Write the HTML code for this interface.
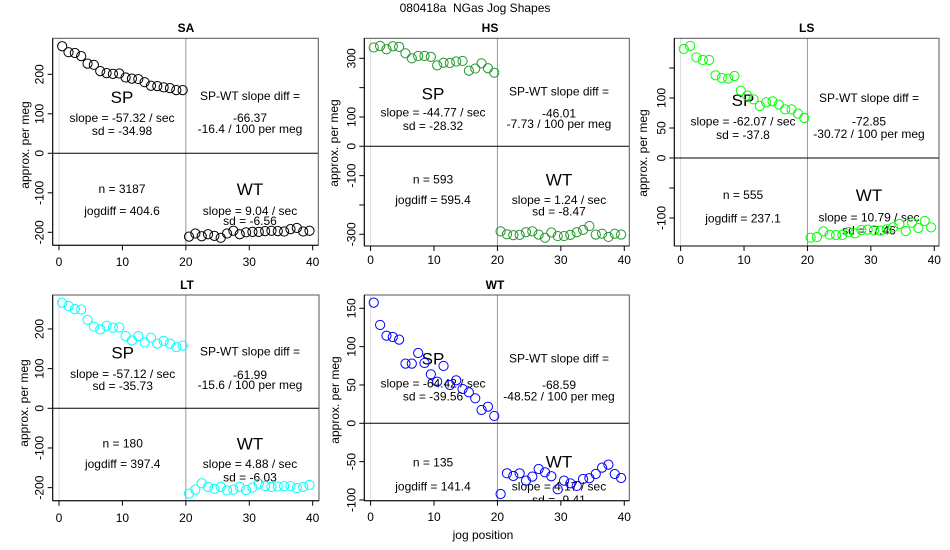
<!DOCTYPE html>
<html><head><meta charset="utf-8"><style>
html,body{margin:0;padding:0;background:#fff}
svg{display:block;font-family:"Liberation Sans",sans-serif}
</style></head><body>
<svg id="chart" width="950" height="550" viewBox="0 0 950 550" xmlns="http://www.w3.org/2000/svg">
<text x="475" y="12" text-anchor="middle" font-size="12" style="white-space:pre" xml:space="preserve">080418a  NGas Jog Shapes</text>
<text x="483" y="539" text-anchor="middle" font-size="12">jog position</text>
</svg>
<script>
const positions = [0.5,1.5,2.5,3.5,4.5,5.5,6.5,7.5,8.5,9.5,10.5,11.5,12.5,13.5,14.5,15.5,16.5,17.5,18.5,19.5,20.5,21.5,22.5,23.5,24.5,25.5,26.5,27.5,28.5,29.5,30.5,31.5,32.5,33.5,34.5,35.5,36.5,37.5,38.5,39.5];
const saValues = [271,256,254,246,227,224,208,203,201,202,192,189,188,180,171,170,167,165,160,160,-211,-203,-210,-205,-209,-214,-203,-196,-205,-200,-199,-199,-197,-196,-197,-198,-192,-189,-198,-196];
const hsValues = [337,342,331,341,339,317,300,308,308,305,276,285,284,289,291,258,265,283,266,251,-290,-300,-303,-302,-293,-290,-301,-312,-294,-306,-306,-302,-293,-285,-272,-301,-298,-309,-298,-301];
const lsValues = [181.7,186.7,167.8,163.3,163.3,137.8,133.3,132.2,136.7,112.2,104,97.8,86.7,92.8,94.4,88.9,81.1,81.1,73.9,66.7,-132.8,-131.7,-122.2,-127.8,-128.3,-128.3,-123.3,-125.6,-120,-119.4,-120.6,-121.1,-118.9,-115.6,-110,-121.7,-107.8,-116.7,-105,-115.6];
const ltValues = [266,258,250,249,223,206,199,208,203,204,182,171,182,166,178,163,170,163,154,158,-215,-205,-189,-198,-203,-198,-207,-205,-198,-206,-200,-190,-196,-198,-197,-196,-196,-201,-198,-193];
const wtValues = [157.4,128.3,114.3,112.6,109.1,77.8,77.8,91.7,78.7,63.9,54.3,74.8,50,56.1,44.8,40.4,32.6,17.4,21.7,9.6,-92.2,-65.2,-68.7,-65.2,-74.8,-69.6,-59.6,-63.9,-69.1,-86.1,-74.8,-78.3,-81.7,-72.6,-71.7,-66.1,-57.8,-53.9,-66.1,-71.3];
const xTicks = [0,10,20,30,40];
const saTicks = [-200,-100,0,100,200];
const saTickLabels = ["-200","-100","0","100","200"];
const hsTicks = [-300,-200,-100,0,100,200,300];
const hsTickLabels = ["-300","","-100","0","100","","300"];
const lsTicks = [-100,-50,0,50,100,150];
const lsTickLabels = ["-100","","0","50","100",""];
const ltTicks = [-200,-100,0,100,200];
const ltTickLabels = ["-200","-100","0","100","200"];
const wtTicks = [-100,-50,0,50,100,150];
const wtTickLabels = ["-100","-50","0","50","100","150"];
const saText = ["SP","slope = -57.32 / sec","sd = -34.98","SP-WT slope diff =","-66.37","-16.4 / 100 per meg","n = 3187","jogdiff = 404.6","WT","slope = 9.04 / sec","sd = -6.56"];
const hsText = ["SP","slope = -44.77 / sec","sd = -28.32","SP-WT slope diff =","-46.01","-7.73 / 100 per meg","n = 593","jogdiff = 595.4","WT","slope = 1.24 / sec","sd = -8.47"];
const lsText = ["SP","slope = -62.07 / sec","sd = -37.8","SP-WT slope diff =","-72.85","-30.72 / 100 per meg","n = 555","jogdiff = 237.1","WT","slope = 10.79 / sec","sd = -7.46"];
const ltText = ["SP","slope = -57.12 / sec","sd = -35.73","SP-WT slope diff =","-61.99","-15.6 / 100 per meg","n = 180","jogdiff = 397.4","WT","slope = 4.88 / sec","sd = -6.03"];
const wtText = ["SP","slope = -64.42 / sec","sd = -39.56","SP-WT slope diff =","-68.59","-48.52 / 100 per meg","n = 135","jogdiff = 141.4","WT","slope = 4.17 / sec","sd = -9.41"];

const NS="http://www.w3.org/2000/svg";
const svg=document.getElementById('chart');
function mk(tag,attrs,parent){const e=document.createElementNS(NS,tag);for(const k in attrs)e.setAttribute(k,attrs[k]);(parent||svg).appendChild(e);return e;}

const panels=[
 {id:'sa',title:'SA',values:saValues,ticks:saTicks,labels:saTickLabels,text:saText,color:'#000000',
  l:52.7,r:318.3,t:38.3,b:245.3,y0:153.3,k:0.395,tx:186,ty:32,ylx:25,yly:145,xly:266,
  cx:[122,250],ys:[97,118,131,96,118,129,189,211,189,211,221]},
 {id:'hs',title:'HS',values:hsValues,ticks:hsTicks,labels:hsTickLabels,text:hsText,color:'#22962a',
  l:364.3,r:629.3,t:38.3,b:246,y0:146.3,k:0.2933,tx:490,ty:32,ylx:334,yly:143,xly:264,
  cx:[433,559],ys:[93.3,112.7,126,91.7,113.3,124,179.3,200,179.3,200,211.7]},
 {id:'ls',title:'LS',values:lsValues,ticks:lsTicks,labels:lsTickLabels,text:lsText,color:'#00ff00',
  l:674.3,r:939,t:38.3,b:246,y0:158,k:0.6,tx:806.7,ty:32,ylx:643,yly:153,xly:264,
  cx:[743,869],ys:[100,121.7,135,98,121.7,134,195,218.3,195,217.7,230.7]},
 {id:'lt',title:'LT',values:ltValues,ticks:ltTicks,labels:ltTickLabels,text:ltText,color:'#00ffff',
  l:52.7,r:319,t:295,b:500.7,y0:408.3,k:0.3967,tx:187,ty:289,ylx:24,yly:403,xly:522,
  cx:[122.7,250],ys:[352.7,374,386,351.7,375,385,443.3,464,443.3,464,477.3]},
 {id:'wt',title:'WT',values:wtValues,ticks:wtTicks,labels:wtTickLabels,text:wtText,color:'#0000ff',
  l:364.3,r:629.3,t:295,b:500.7,y0:423.3,k:0.7667,tx:495,ty:289,ylx:335,yly:400,xly:521,
  cx:[433,559],ys:[358.3,383.3,396.7,358.3,385,396.7,462.7,486.7,461.7,486.7,500]}
];

panels.forEach(p=>{
  const g=mk('g',{});
  
  
  const xs=v=>p.l+6.3+v*6.342;
  const ys=v=>p.y0-v*p.k;
  const clipId='clip-'+p.id;
  const cp=mk('clipPath',{id:clipId},g);
  mk('rect',{x:p.l,y:p.t,width:p.r-p.l,height:p.b-p.t},cp);
  const title=mk('text',{x:p.tx,y:p.ty,'text-anchor':'middle','font-size':12,'font-weight':'bold'},g);
  title.textContent=p.title;
  
  
  const l0=mk('line',{x1:xs(0),x2:xs(0),y1:p.t,y2:p.b,stroke:'#dddddd','stroke-width':1},g);
  
  
  const l20=mk('line',{x1:xs(20),x2:xs(20),y1:p.t,y2:p.b,stroke:'#999999','stroke-width':1},g);
  
  
  const h0=mk('line',{x1:p.l,x2:p.r,y1:ys(0),y2:ys(0),stroke:'#000','stroke-width':1},g);
  
  
  const box=mk('rect',{x:p.l,y:p.t,width:p.r-p.l,height:p.b-p.t,fill:'none',stroke:'#555','stroke-width':1},g);
  
  
  mk('line',{x1:p.l,x2:p.l,y1:p.t,y2:p.b,stroke:'#000'},g);
  mk('line',{x1:p.l,x2:p.r,y1:p.b,y2:p.b,stroke:'#000'},g);
  xTicks.forEach(v=>{
    mk('line',{x1:xs(v),x2:xs(v),y1:p.b,y2:p.b+5,stroke:'#000'},g);
    const t=mk('text',{x:xs(v),y:p.xly,'text-anchor':'middle','font-size':12},g);
    t.textContent=String(v);
    
    
  });
  p.ticks.forEach((v,i)=>{
    mk('line',{x1:p.l-5,x2:p.l,y1:ys(v),y2:ys(v),stroke:'#000'},g);
    if(p.labels[i]){
      const t=mk('text',{x:0,y:0,'text-anchor':'middle','font-size':12,transform:`translate(${p.l-9},${ys(v)}) rotate(-90)`},g);
      t.textContent=p.labels[i];
      
      
    }
  });
  const yl=mk('text',{x:0,y:0,'text-anchor':'middle','font-size':12,transform:`translate(${p.ylx+4},${p.yly}) rotate(-90)`},g);
  yl.textContent='approx. per meg';
  
  
  const tg=mk('g',{'clip-path':`url(#${clipId})`},g);
  p.text.forEach((s,i)=>{
    const col=(i<3||i==6||i==7)?p.cx[0]:p.cx[1];
    const big=(i==0||i==8);
    const t=mk('text',{x:col,y:p.ys[i]+(big?6:4),'text-anchor':'middle','font-size':big?17:12},tg);
    t.textContent=s;
    
    
  });
  const pg=mk('g',{'clip-path':`url(#${clipId})`},g);
  p.values.forEach((v,i)=>{
    const c=mk('circle',{cx:xs(positions[i]),cy:ys(v),r:4.6,fill:'none',stroke:p.color,'stroke-width':1},pg);
    
    
  });
});
</script>
</body></html>
